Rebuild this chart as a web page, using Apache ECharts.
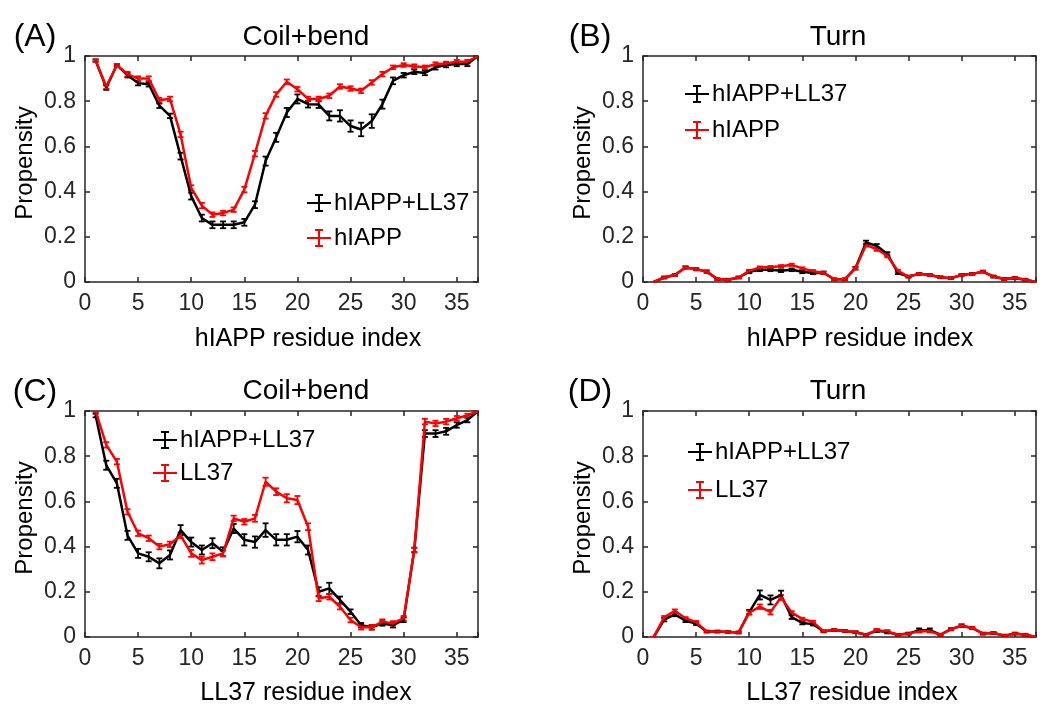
<!DOCTYPE html>
<html>
<head>
<meta charset="utf-8">
<title>Coil+bend and turn propensity</title>
<script src="https://cdn.jsdelivr.net/npm/echarts@6/dist/echarts.min.js"></script>
<style>
  html, body { margin: 0; padding: 0; background: #fff; }
  #chart { width: 1053px; height: 709px; }
</style>
</head>
<body>
<div id="chart"></div>
<script>
// residue index (x) shared by every panel
const residues = [1, 2, 3, 4, 5, 6, 7, 8, 9, 10, 11, 12, 13, 14, 15, 16, 17, 18, 19,
  20, 21, 22, 23, 24, 25, 26, 27, 28, 29, 30, 31, 32, 33, 34, 35, 36, 37];

// (A) coil+bend, hIAPP residues
const coilHiappMix = [0.98, 0.86, 0.96, 0.915, 0.88, 0.875, 0.78, 0.735, 0.557, 0.38, 0.283, 0.253, 0.253,
  0.253, 0.264, 0.342, 0.535, 0.64, 0.75, 0.81, 0.787, 0.785, 0.735, 0.735, 0.69, 0.675, 0.712,
  0.787, 0.89, 0.915, 0.93, 0.925, 0.95, 0.96, 0.965, 0.965, 1.0];
const coilHiappMixErr = [0.005, 0.01, 0.005, 0.01, 0.01, 0.01, 0.01, 0.01, 0.015, 0.015, 0.015, 0.015, 0.015,
  0.015, 0.015, 0.015, 0.02, 0.02, 0.02, 0.02, 0.015, 0.015, 0.02, 0.025, 0.025, 0.03, 0.03,
  0.02, 0.015, 0.01, 0.01, 0.01, 0.01, 0.01, 0.01, 0.01, 0.005];
const coilHiapp = [0.98, 0.865, 0.96, 0.92, 0.9, 0.9, 0.805, 0.81, 0.653, 0.416, 0.338, 0.298, 0.305,
  0.32, 0.409, 0.568, 0.735, 0.83, 0.886, 0.853, 0.81, 0.81, 0.824, 0.865, 0.856, 0.846, 0.883,
  0.92, 0.95, 0.96, 0.955, 0.95, 0.964, 0.967, 0.975, 0.975, 1.0];
const coilHiappErr = [0.005, 0.01, 0.005, 0.01, 0.01, 0.01, 0.01, 0.01, 0.012, 0.012, 0.012, 0.01, 0.01,
  0.01, 0.012, 0.012, 0.012, 0.01, 0.01, 0.01, 0.01, 0.01, 0.01, 0.01, 0.01, 0.01, 0.01,
  0.01, 0.008, 0.008, 0.008, 0.008, 0.008, 0.008, 0.008, 0.008, 0.005];

// (B) turn, hIAPP residues
const turnHiappMix = [0, 0.02, 0.031, 0.064, 0.057, 0.046, 0.013, 0.01, 0.02, 0.045, 0.054, 0.054, 0.05,
  0.054, 0.045, 0.04, 0.041, 0.012, 0.012, 0.061, 0.175, 0.16, 0.124, 0.04, 0.024, 0.036, 0.031,
  0.021, 0.017, 0.031, 0.036, 0.046, 0.024, 0.013, 0.018, 0.01, 0];
const turnHiappMixErr = [0, 0.004, 0.004, 0.005, 0.005, 0.005, 0.004, 0.004, 0.004, 0.006, 0.006, 0.006, 0.006,
  0.006, 0.006, 0.005, 0.005, 0.004, 0.004, 0.006, 0.008, 0.008, 0.008, 0.005, 0.004, 0.004, 0.004,
  0.004, 0.004, 0.004, 0.004, 0.004, 0.004, 0.004, 0.004, 0.004, 0];
const turnHiapp = [0, 0.02, 0.031, 0.064, 0.057, 0.046, 0.013, 0.01, 0.02, 0.049, 0.064, 0.066, 0.07,
  0.076, 0.06, 0.048, 0.041, 0.012, 0.012, 0.061, 0.164, 0.145, 0.116, 0.049, 0.024, 0.036, 0.031,
  0.021, 0.017, 0.031, 0.036, 0.046, 0.024, 0.013, 0.018, 0.01, 0];
const turnHiappErr = [0, 0.004, 0.004, 0.005, 0.005, 0.005, 0.004, 0.004, 0.004, 0.005, 0.005, 0.005, 0.005,
  0.005, 0.005, 0.005, 0.005, 0.004, 0.004, 0.005, 0.007, 0.007, 0.007, 0.005, 0.004, 0.004, 0.004,
  0.004, 0.004, 0.004, 0.004, 0.004, 0.004, 0.004, 0.004, 0.004, 0];

// (C) coil+bend, LL37 residues
const coilLLMix = [0.98, 0.76, 0.68, 0.45, 0.37, 0.355, 0.326, 0.363, 0.473, 0.42, 0.385, 0.415, 0.377,
  0.48, 0.43, 0.42, 0.473, 0.43, 0.43, 0.444, 0.385, 0.2, 0.215, 0.164, 0.112, 0.052, 0.043,
  0.06, 0.052, 0.076, 0.385, 0.9, 0.9, 0.91, 0.938, 0.96, 1.0];
const coilLLMixErr = [0.008, 0.02, 0.02, 0.02, 0.02, 0.02, 0.022, 0.02, 0.022, 0.02, 0.02, 0.022, 0.02,
  0.02, 0.025, 0.025, 0.03, 0.025, 0.025, 0.025, 0.02, 0.02, 0.025, 0.015, 0.01, 0.01, 0.01,
  0.01, 0.01, 0.01, 0.01, 0.015, 0.015, 0.015, 0.012, 0.01, 0.005];
const coilLL = [1.0, 0.85, 0.776, 0.554, 0.459, 0.437, 0.4, 0.41, 0.45, 0.37, 0.34, 0.355, 0.37,
  0.525, 0.51, 0.525, 0.687, 0.643, 0.614, 0.606, 0.488, 0.171, 0.178, 0.134, 0.075, 0.043, 0.043,
  0.068, 0.06, 0.083, 0.385, 0.953, 0.945, 0.953, 0.968, 0.98, 1.0];
const coilLLErr = [0.005, 0.012, 0.012, 0.012, 0.012, 0.012, 0.012, 0.012, 0.012, 0.015, 0.015, 0.015, 0.012,
  0.012, 0.012, 0.015, 0.018, 0.015, 0.018, 0.018, 0.015, 0.012, 0.012, 0.012, 0.01, 0.01, 0.01,
  0.01, 0.01, 0.01, 0.01, 0.012, 0.012, 0.012, 0.01, 0.008, 0.005];

// (D) turn, LL37 residues
const turnLLMix = [0, 0.077, 0.1, 0.072, 0.059, 0.024, 0.024, 0.022, 0.02, 0.11, 0.186, 0.164, 0.185,
  0.088, 0.062, 0.057, 0.025, 0.031, 0.027, 0.021, 0.01, 0.028, 0.022, 0.01, 0.015, 0.03, 0.03,
  0.01, 0.035, 0.05, 0.04, 0.015, 0.018, 0.006, 0.015, 0.01, 0];
const turnLLMixErr = [0, 0.008, 0.008, 0.006, 0.006, 0.004, 0.004, 0.004, 0.004, 0.01, 0.02, 0.02, 0.02,
  0.008, 0.006, 0.006, 0.004, 0.004, 0.004, 0.004, 0.004, 0.006, 0.006, 0.004, 0.004, 0.008, 0.008,
  0.004, 0.005, 0.006, 0.005, 0.004, 0.004, 0.004, 0.004, 0.004, 0];
const turnLL = [0, 0.087, 0.116, 0.083, 0.066, 0.024, 0.024, 0.022, 0.02, 0.108, 0.134, 0.11, 0.176,
  0.108, 0.08, 0.067, 0.025, 0.031, 0.027, 0.021, 0.01, 0.03, 0.025, 0.01, 0.015, 0.025, 0.025,
  0.01, 0.035, 0.05, 0.04, 0.015, 0.018, 0.006, 0.015, 0.01, 0];
const turnLLErr = [0, 0.006, 0.006, 0.005, 0.005, 0.004, 0.004, 0.004, 0.004, 0.008, 0.01, 0.01, 0.01,
  0.006, 0.005, 0.005, 0.004, 0.004, 0.004, 0.004, 0.004, 0.005, 0.005, 0.004, 0.004, 0.005, 0.005,
  0.004, 0.005, 0.005, 0.005, 0.004, 0.004, 0.004, 0.004, 0.004, 0];

const FONT = '"Liberation Sans", Arial, sans-serif';
const AXIS_COLOR = '#262626';
const BLACK = '#000000';
const RED = '#ff0000';

// errorbar-style legend glyph (horizontal line, vertical bar with caps)
const ERR_ICON = 'path://M0,9h24v2h-24z M11,2h2v16h-2z M8,1h8v2h-8z M8,17h8v2h-8z';

const grids = [
  { left: 85, top: 56, width: 393, height: 226 },
  { left: 643, top: 56, width: 393, height: 226 },
  { left: 85, top: 411, width: 393, height: 226 },
  { left: 643, top: 411, width: 393, height: 226 }
];

const axisLine = { show: true, onZero: false, lineStyle: { color: AXIS_COLOR, width: 1.5 } };
const axisTick = { show: true, inside: true, length: 5, lineStyle: { color: AXIS_COLOR, width: 1.5 } };

const xAxes = [];
const yAxes = [];
[0, 1].forEach((side) => {
  grids.forEach((g, i) => {
    xAxes.push({
      gridIndex: i, type: 'value', min: 0, max: 37, interval: 5,
      position: side === 0 ? 'bottom' : 'top',
      axisLine, axisTick, splitLine: { show: false },
      axisLabel: {
        show: side === 0, fontSize: 23, color: AXIS_COLOR, fontFamily: FONT, margin: 10,
        formatter: (v) => (v % 5 === 0 ? String(v) : '')
      }
    });
    yAxes.push({
      gridIndex: i, type: 'value', min: 0, max: 1, interval: 0.2,
      position: side === 0 ? 'left' : 'right',
      axisLine, axisTick, splitLine: { show: false },
      axisLabel: {
        show: side === 0, fontSize: 23, color: AXIS_COLOR, fontFamily: FONT, margin: 9,
        formatter: (v) => String(Math.round(v * 10) / 10)
      }
    });
  });
});

function renderErr(params, api) {
  const x = api.value(0), y = api.value(1), e = api.value(2);
  const hi = api.coord([x, y + e]);
  const lo = api.coord([x, y - e]);
  const style = { stroke: api.visual('color'), lineWidth: 1.8 };
  const w = 3;
  return {
    type: 'group',
    children: [
      { type: 'line', shape: { x1: hi[0], y1: hi[1], x2: lo[0], y2: lo[1] }, style },
      { type: 'line', shape: { x1: hi[0] - w, y1: hi[1], x2: hi[0] + w, y2: hi[1] }, style },
      { type: 'line', shape: { x1: lo[0] - w, y1: lo[1], x2: lo[0] + w, y2: lo[1] }, style }
    ]
  };
}

function errorLine(name, values, errs, color, gi) {
  return [
    {
      name, type: 'line', xAxisIndex: gi, yAxisIndex: gi,
      data: residues.map((r, i) => [r, values[i]]),
      symbol: 'none', color,
      itemStyle: { color },
      lineStyle: { color, width: 2.5 },
      animation: false
    },
    {
      type: 'custom', xAxisIndex: gi, yAxisIndex: gi,
      data: residues.map((r, i) => [r, values[i], errs[i]]),
      renderItem: renderErr, clip: true,
      itemStyle: { color },
      encode: { x: 0, y: 1 },
      silent: true, animation: false
    }
  ];
}

const series = [].concat(
  errorLine('hIAPP+LL37', coilHiappMix, coilHiappMixErr, BLACK, 0),
  errorLine('hIAPP', coilHiapp, coilHiappErr, RED, 0),
  errorLine('hIAPP+LL37', turnHiappMix, turnHiappMixErr, BLACK, 1),
  errorLine('hIAPP', turnHiapp, turnHiappErr, RED, 1),
  errorLine('hIAPP+LL37', coilLLMix, coilLLMixErr, BLACK, 2),
  errorLine('LL37', coilLL, coilLLErr, RED, 2),
  errorLine('hIAPP+LL37', turnLLMix, turnLLMixErr, BLACK, 3),
  errorLine('LL37', turnLL, turnLLErr, RED, 3)
);

// one legend row per item so each row sits where the reference has it
function legendRow(name, left, centerY, color) {
  return {
    data: [{ name, itemStyle: { color } }],
    left, top: centerY - 12,
    icon: ERR_ICON, itemWidth: 24, itemHeight: 20,
    selectedMode: false, padding: 0,
    textStyle: { fontSize: 24, color: '#000', fontFamily: FONT, padding: [0, 0, 0, -2] }
  };
}

const legends = [
  legendRow('hIAPP+LL37', 307, 203, BLACK),
  legendRow('hIAPP', 307, 238, RED),
  legendRow('hIAPP+LL37', 685, 94, BLACK),
  legendRow('hIAPP', 685, 130, RED),
  legendRow('hIAPP+LL37', 153, 440, BLACK),
  legendRow('LL37', 153, 473, RED),
  legendRow('hIAPP+LL37', 688, 452, BLACK),
  legendRow('LL37', 688, 490, RED)
];

function label(text, x, y, size, rotate) {
  return {
    type: 'text', x, y, rotation: rotate ? Math.PI / 2 : 0,
    style: { text, fill: '#000', font: size + 'px ' + FONT, align: 'center', verticalAlign: 'middle' }
  };
}

const texts = [
  label('(A)', 35, 37, 32), label('(B)', 590, 37, 32),
  label('(C)', 35, 392, 32), label('(D)', 590, 392, 32),
  label('Coil+bend', 306, 37, 28), label('Turn', 838, 37, 28),
  label('Coil+bend', 306, 391, 28), label('Turn', 838, 391, 28),
  label('hIAPP residue index', 308, 339, 25), label('hIAPP residue index', 860, 339, 25),
  label('LL37 residue index', 306, 693, 25), label('LL37 residue index', 852, 693, 25),
  label('Propensity', 25, 163, 24, true), label('Propensity', 583, 163, 24, true),
  label('Propensity', 25, 518, 24, true), label('Propensity', 583, 518, 24, true)
];

const chart = echarts.init(document.getElementById('chart'));
chart.setOption({
  backgroundColor: '#ffffff',
  animation: false,
  grid: grids,
  xAxis: xAxes,
  yAxis: yAxes,
  legend: legends,
  graphic: texts,
  series
});
</script>
</body>
</html>
